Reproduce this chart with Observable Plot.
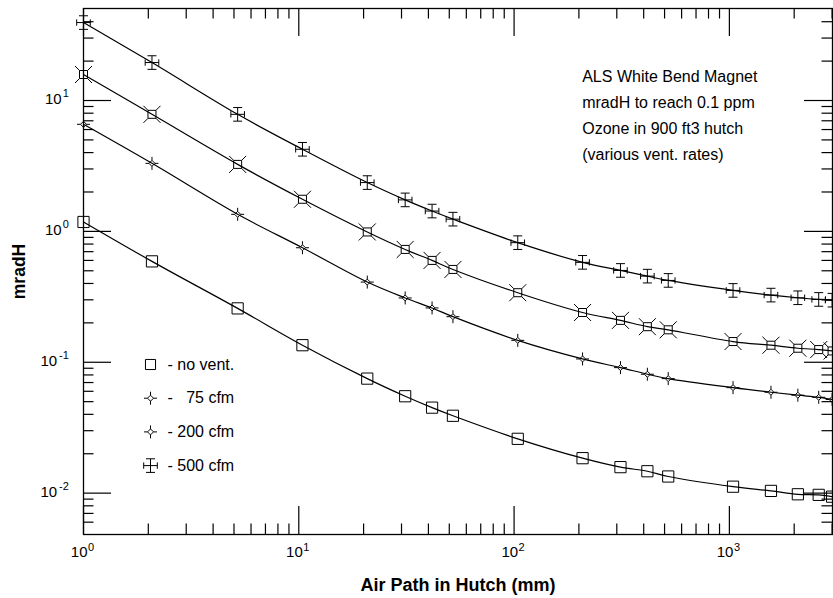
<!DOCTYPE html>
<html><head><meta charset="utf-8">
<script src="https://cdn.jsdelivr.net/npm/d3@7"></script>
<script src="https://cdn.jsdelivr.net/npm/@observablehq/plot@0.6"></script>
<style>body{margin:0;background:#fff;}</style>
</head><body><div id="chart"></div>
<script>
// ---- data ----
const airPath = [1, 2.08, 5.2, 10.4, 20.8, 31.2, 41.6, 52, 104, 208, 312, 416, 520, 1040, 1560, 2080, 2600, 3000];
const noVent  = [1.18, 0.59, 0.258, 0.135, 0.075, 0.055, 0.045, 0.039, 0.026, 0.0185, 0.0158, 0.0147, 0.0134, 0.0112, 0.0104, 0.0098, 0.0097, 0.0094];
const cfm75   = [6.58, 3.31, 1.35, 0.75, 0.41, 0.31, 0.26, 0.223, 0.147, 0.106, 0.091, 0.081, 0.075, 0.064, 0.059, 0.056, 0.054, 0.052];
const cfm200  = [15.8, 7.84, 3.25, 1.76, 0.99, 0.728, 0.60, 0.512, 0.34, 0.24, 0.209, 0.187, 0.177, 0.144, 0.135, 0.128, 0.125, 0.122];
const cfm500  = [39.4, 19.5, 7.84, 4.24, 2.36, 1.74, 1.43, 1.24, 0.82, 0.58, 0.503, 0.455, 0.422, 0.354, 0.326, 0.311, 0.302, 0.298];
const seriesNames = ["no vent.", "75 cfm", "200 cfm", "500 cfm"];
const legendLabels = ["- no vent.", "-\u00a0\u00a0\u00a075 cfm", "- 200 cfm", "- 500 cfm"];
const annotation = ["ALS White Bend Magnet", "mradH to reach 0.1 ppm", "Ozone in 900 ft3 hutch", "(various vent. rates)"];
const xTitle = "Air Path in Hutch (mm)";
const yTitle = "mradH";
const xMajor = [1, 10, 100, 1000];
const xExp = ["0", "1", "2", "3"];
const xMinor = [2,3,4,5,6,7,8,9, 20,30,40,50,60,70,80,90, 200,300,400,500,600,700,800,900, 2000,3000];
const yMajor = [0.01, 0.1, 1, 10];
const yExp = ["-2", "-1", "0", "1"];
const yMinor = [0.006,0.007,0.008,0.009, 0.02,0.03,0.04,0.05,0.06,0.07,0.08,0.09, 0.2,0.3,0.4,0.5,0.6,0.7,0.8,0.9, 2,3,4,5,6,7,8,9, 20,30,40];

const allSeries = [noVent, cfm75, cfm200, cfm500];
const rows = allSeries.flatMap((vals, s) => vals.map((v, i) => ({series: seriesNames[s], x: airPath[i], y: v})));

// ---- custom marker shapes ----
function sym(fn) { return {draw(ctx, size) { fn(ctx, Math.sqrt(size / Math.PI)); }}; }
const seg = (c, x1, y1, x2, y2) => { c.moveTo(x1, y1); c.lineTo(x2, y2); };
const squareSym = sym((c, s) => { const a = 5.6 * s; c.moveTo(-a, -a); c.lineTo(a, -a); c.lineTo(a, a); c.lineTo(-a, a); c.closePath(); });
const diamondSym = sym((c, s) => {
  const a = 3 * s, b = 6.5 * s;
  c.moveTo(0, -a); c.lineTo(a, 0); c.lineTo(0, a); c.lineTo(-a, 0); c.closePath();
  seg(c, 0, -a, 0, -b); seg(c, 0, a, 0, b); seg(c, -a, 0, -b, 0); seg(c, a, 0, b, 0);
});
const xSquareSym = sym((c, s) => {
  const a = 4 * s, b = 8.5 * s;
  c.moveTo(-a, -a); c.lineTo(a, -a); c.lineTo(a, a); c.lineTo(-a, a); c.closePath();
  seg(c, a, a, b, b); seg(c, -a, a, -b, b); seg(c, a, -a, b, -b); seg(c, -a, -a, -b, -b);
});
const errSym = sym((c, s) => {
  const v = 6.8 * s, cw = 4.5 * s, h = 6.8 * s, ch = 3.2 * s;
  seg(c, 0, -v, 0, v); seg(c, -cw, -v, cw, -v); seg(c, -cw, v, cw, v);
  seg(c, -h, 0, h, 0); seg(c, -h, -ch, -h, ch); seg(c, h, -ch, h, ch);
});
const chartSymbols = [squareSym, diamondSym, xSquareSym, errSym];
const legendSymbols = [squareSym, diamondSym, diamondSym, errSym];

// ---- layout ----
const width = 833, height = 598;
const mL = 83, mR = 1, mT = 8, mB = 64;
const W = width - mL - mR, H = height - mT - mB;
const majorLen = 28, minorLen = 10.5;
const font = "'Liberation Sans', Arial, Helvetica, sans-serif";
const tick = {stroke: "black", strokeWidth: 1.2};

const marks = [
  Plot.ruleX(xMajor, {...tick, insetTop: H - majorLen}),
  Plot.ruleX(xMajor, {...tick, insetBottom: H - majorLen}),
  Plot.ruleX(xMinor, {...tick, insetTop: H - minorLen}),
  Plot.ruleX(xMinor, {...tick, insetBottom: H - minorLen}),
  Plot.ruleY(yMajor, {...tick, insetRight: W - majorLen}),
  Plot.ruleY(yMajor, {...tick, insetLeft: W - majorLen}),
  Plot.ruleY(yMinor, {...tick, insetRight: W - minorLen}),
  Plot.ruleY(yMinor, {...tick, insetLeft: W - minorLen}),
  Plot.line(rows, {x: "x", y: "y", z: "series", curve: "catmull-rom", stroke: "black", strokeWidth: 1.2, clip: true}),
  ...seriesNames.map((name, i) => Plot.dot(rows.filter(d => d.series === name), {x: "x", y: "y", symbol: chartSymbols[i], r: 1, stroke: "black", fill: "none", strokeWidth: 1})),
  Plot.frame({stroke: "black", strokeWidth: 1.3}),
  // x tick labels
  Plot.text(xMajor, {x: d => d, text: () => "10", frameAnchor: "bottom", dy: 18, dx: 4, textAnchor: "end", lineAnchor: "middle", fontSize: 15, fontFamily: font, fill: "black"}),
  Plot.text(xMajor, {x: d => d, text: xExp, frameAnchor: "bottom", dy: 13, dx: 4.5, textAnchor: "start", lineAnchor: "middle", fontSize: 11, fontFamily: font, fill: "black"}),
  // y tick labels
  Plot.text(yMajor, {y: d => d, text: () => "10", filter: (d, i) => !yExp[i].startsWith("-"), frameAnchor: "left", dx: -21.8, dy: -1, textAnchor: "end", lineAnchor: "middle", fontSize: 15, fontFamily: font, fill: "black"}),
  Plot.text(yMajor, {y: d => d, text: () => "10", filter: (d, i) => yExp[i].startsWith("-"), frameAnchor: "left", dx: -26.3, dy: -1, textAnchor: "end", lineAnchor: "middle", fontSize: 15, fontFamily: font, fill: "black"}),
  Plot.text(yMajor, {y: d => d, text: yExp, frameAnchor: "left", dx: -14.7, dy: -7, textAnchor: "end", lineAnchor: "middle", fontSize: 11, fontFamily: font, fill: "black"}),
  // axis titles
  Plot.text([xTitle], {frameAnchor: "bottom", dy: 51, textAnchor: "middle", lineAnchor: "middle", fontWeight: "bold", fontSize: 18, fontFamily: font, fill: "black"}),
  Plot.text([yTitle], {frameAnchor: "left", dx: -64, rotate: -90, textAnchor: "middle", lineAnchor: "middle", fontWeight: "bold", fontSize: 17.5, fontFamily: font, fill: "black"}),
  // annotation
  Plot.text([annotation.join("\n")], {frameAnchor: "top-left", dx: 498.7, dy: 55.3, textAnchor: "start", lineAnchor: "top", lineHeight: 1.62, fontSize: 16, fontFamily: font, fill: "black"})
];
// legend
legendLabels.forEach((lab, i) => {
  const dy = 356 + i * 33.7;
  marks.push(Plot.dot([0], {frameAnchor: "top-left", dx: 67, dy, symbol: legendSymbols[i], r: i === 0 ? 0.9 : 1, stroke: "black", fill: "none", strokeWidth: 1}));
  marks.push(Plot.text([lab], {frameAnchor: "top-left", dx: 84, dy, textAnchor: "start", lineAnchor: "middle", fontSize: 16, fontFamily: font, fill: "black"}));
});

const chart = Plot.plot({
  width, height,
  marginLeft: mL, marginRight: mR, marginTop: mT, marginBottom: mB,
  x: {type: "log", domain: [1, 3013], axis: null},
  y: {type: "log", domain: [0.00483, 50.47], axis: null},
  style: {fontFamily: font, background: "white", color: "black", overflow: "visible"},
  marks
});
document.getElementById("chart").appendChild(chart);
</script>
</body></html>
